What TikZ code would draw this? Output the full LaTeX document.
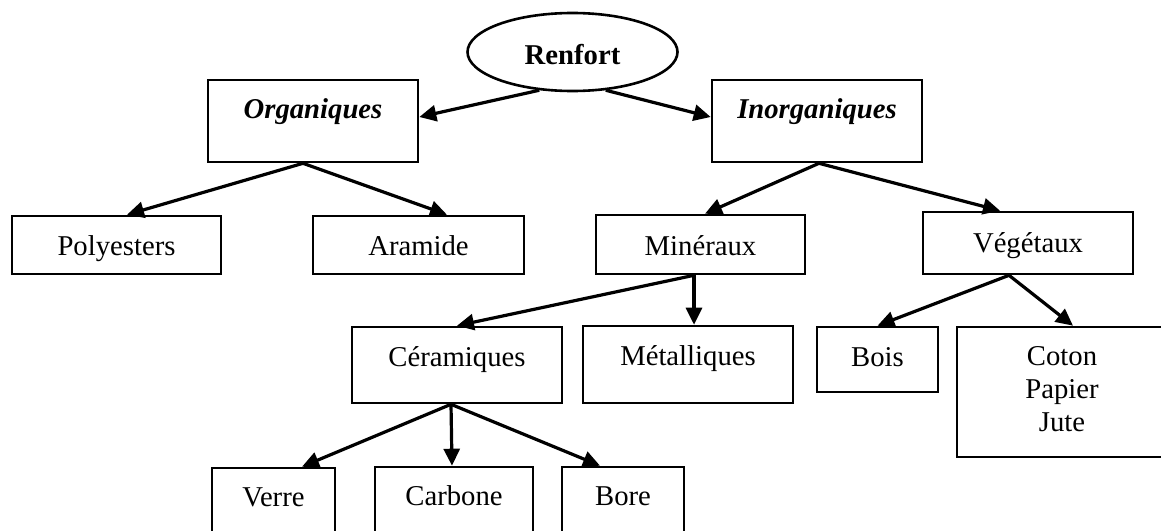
\documentclass[tikz,border=0pt]{standalone}
\usepackage{fontspec}
\setmainfont{Liberation Serif}
\usetikzlibrary{arrows.meta,shapes.geometric,calc}
\begin{document}
\begin{tikzpicture}[x=0.5pt,y=-0.5pt,
  box/.style={draw=black,line width=1.3pt,rectangle,inner sep=0pt},
  oval/.style={draw=black,line width=1.3pt,ellipse,inner sep=0pt},
  txt/.style={inner sep=0pt,anchor=base,font=\fontsize{14.35}{16.5}\selectfont,align=center},
  arr/.style={line width=1.6pt,-{Triangle[length=8.5pt,width=8pt]}}]
\useasboundingbox (0,0) rectangle (1161,530);
\clip (0,0) rectangle (1161,530);

% shapes
\node[oval,minimum width=105pt,minimum height=39pt] (ren) at (572.5,52) {};
\node[box,minimum width=105pt,minimum height=41pt] (org) at (313,121) {};
\node[box,minimum width=105pt,minimum height=41pt] (inorg) at (817,121) {};
\node[box,minimum width=104.5pt,minimum height=29pt] (poly) at (116.5,245) {};
\node[box,minimum width=105.5pt,minimum height=29pt] (ara) at (418.5,245) {};
\node[box,minimum width=104.5pt,minimum height=29.5pt] (mine) at (700.5,244.5) {};
\node[box,minimum width=105pt,minimum height=31pt] (veg) at (1028,243) {};
\node[box,minimum width=105pt,minimum height=38pt] (cer) at (457,365) {};
\node[box,minimum width=105pt,minimum height=38.5pt] (met) at (688,364.5) {};
\node[box,minimum width=60.5pt,minimum height=32.5pt] (bois) at (877.5,359.5) {};
\node[box,minimum width=105pt,minimum height=65pt] (coton) at (1062,392) {};
\node[box,minimum width=61.5pt,minimum height=46pt] (verre) at (273.5,514) {};
\node[box,minimum width=79pt,minimum height=46.5pt] (carb) at (454,513.5) {};
\node[box,minimum width=61pt,minimum height=46.5pt] (bore) at (623,513.5) {};

% texts
\node[txt] (tren) at (572.5,64) {\textbf{Renfort}};
\node[txt] (torg) at (313,118) {\textbf{\textit{Organiques}}};
\node[txt] (tinorg) at (817,118) {\textbf{\textit{Inorganiques}}};
\node[txt] (tpoly) at (116.5,255) {Polyesters};
\node[txt] (tara) at (418.5,255) {Aramide};
\node[txt] (tmine) at (700.5,255) {Minéraux};
\node[txt] (tveg) at (1028,252) {Végétaux};
\node[txt] (tcer) at (457,366) {Céramiques};
\node[txt] (tmet) at (688,365) {Métalliques};
\node[txt] (tbois) at (877.5,366) {Bois};
\node[txt] (tcoton) at (1062,431.5) {Coton\\Papier\\Jute};
\node[txt] (tverre) at (273.5,506) {Verre};
\node[txt] (tcarb) at (454,505) {Carbone};
\node[txt] (tbore) at (623,505) {Bore};

% connectors
\draw[arr] (ren.-131) -- ($(org.east)+(0,-4)$);
\draw[arr] (ren.-49) -- ($(inorg.west)+(0,-4)$);
\draw[arr] ($(org.south)+(-10,0)$) -- ($(poly.north)+(10.5,0)$);
\draw[arr] ($(org.south)+(-10,0)$) -- ($(ara.north)+(28.5,0)$);
\draw[arr] ($(inorg.south)+(2,0)$) -- ($(mine.north)+(4.5,0)$);
\draw[arr] ($(inorg.south)+(2,0)$) -- ($(veg.north)+(-28,0)$);
\draw[arr] ($(mine.south)+(-6.5,0)$) -- (cer.north);
\draw[arr] ($(mine.south)+(-6.5,0)$) -- ($(met.north)+(6,0)$);
\draw[arr] ($(veg.south)+(-19,0)$) -- (bois.north);
\draw[arr] ($(veg.south)+(-19,0)$) -- ($(coton.north)+(11,0)$);
\draw[arr] ($(cer.south)+(-6,0)$) -- ($(verre.north)+(28.5,0)$);
\draw[arr] ($(cer.south)+(-6,0)$) -- ($(carb.north)+(-2,0)$);
\draw[arr] ($(cer.south)+(-6,0)$) -- ($(bore.north)+(-23,0)$);
\end{tikzpicture}
\end{document}
